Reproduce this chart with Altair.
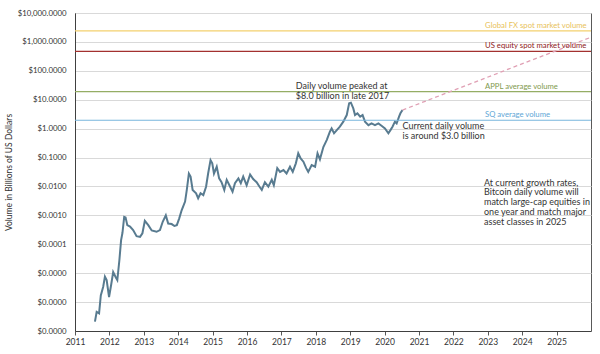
import altair as alt
import pandas as pd

# ---- data ----
years = [2011.58, 2011.63, 2011.70, 2011.75, 2011.82, 2011.87, 2011.92, 2011.99, 2012.05, 2012.11,
         2012.18, 2012.23, 2012.29, 2012.34, 2012.38, 2012.43, 2012.47, 2012.52, 2012.60, 2012.69,
         2012.79, 2012.89, 2012.96, 2013.03, 2013.13, 2013.23, 2013.37, 2013.47, 2013.55, 2013.64,
         2013.71, 2013.81, 2013.89, 2013.96, 2014.03, 2014.10, 2014.20, 2014.25, 2014.31, 2014.36,
         2014.42, 2014.52, 2014.58, 2014.65, 2014.73, 2014.81, 2014.87, 2014.94, 2014.99, 2015.04,
         2015.12, 2015.19, 2015.26, 2015.34, 2015.41, 2015.51, 2015.58, 2015.65, 2015.75, 2015.82,
         2015.89, 2015.99, 2016.09, 2016.18, 2016.28, 2016.36, 2016.43, 2016.52, 2016.62, 2016.72,
         2016.78, 2016.88, 2016.96, 2017.06, 2017.15, 2017.25, 2017.33, 2017.42, 2017.49, 2017.56,
         2017.64, 2017.72, 2017.78, 2017.88, 2017.98, 2018.05, 2018.12, 2018.22, 2018.32, 2018.41,
         2018.46, 2018.53, 2018.61, 2018.70, 2018.80, 2018.90, 2018.97, 2019.02, 2019.09, 2019.14,
         2019.21, 2019.29, 2019.36, 2019.43, 2019.53, 2019.62, 2019.72, 2019.82, 2019.92, 2020.01,
         2020.11, 2020.17, 2020.23, 2020.30, 2020.35, 2020.42, 2020.46, 2020.52]
volumes = [2.1e-7, 4.6e-7, 4.1e-7, 1.7e-6, 3.4e-6, 7.6e-6, 5.8e-6, 1.5e-6, 3.9e-6, 1.1e-5,
           7.4e-6, 5.8e-6, 2.8e-5, 1.4e-4, 2.5e-4, 8.9e-4, 8.5e-4, 4.6e-4, 4.1e-4, 3.1e-4,
           1.9e-4, 1.8e-4, 2.4e-4, 6.5e-4, 4.6e-4, 3.0e-4, 2.7e-4, 3.1e-4, 6.0e-4, 1.0e-3,
           5.2e-4, 5.0e-4, 4.3e-4, 4.6e-4, 7.9e-4, 1.5e-3, 3.0e-3, 7.6e-3, 2.8e-2, 2.2e-2,
           7.6e-3, 5.8e-3, 3.9e-3, 5.8e-3, 5.0e-3, 9.8e-3, 2.8e-2, 8.1e-2, 6.3e-2, 2.8e-2,
           4.8e-2, 1.9e-2, 1.4e-2, 7.6e-3, 1.7e-2, 9.8e-3, 6.6e-3, 1.3e-2, 1.9e-2, 1.3e-2,
           2.2e-2, 1.1e-2, 2.6e-2, 1.8e-2, 1.4e-2, 1.0e-2, 7.6e-3, 1.4e-2, 9.8e-3, 1.7e-2,
           1.1e-2, 4.3e-2, 3.2e-2, 3.7e-2, 2.8e-2, 4.8e-2, 3.2e-2, 6.3e-2, 0.14, 9.3e-2,
           7.2e-2, 4.3e-2, 3.2e-2, 5.5e-2, 4.8e-2, 0.14, 8.7e-2, 0.23, 0.41, 0.78,
           1.02, 0.69, 0.89, 1.17, 1.74, 2.95, 7.6, 7.9, 5.0, 2.95,
           3.4, 2.6, 2.95, 1.74, 1.32, 1.51, 1.32, 1.51, 1.23, 1.02,
           0.69, 0.89, 1.17, 1.74, 1.51, 2.6, 3.4, 4.4]

ref_names = ["Global FX spot market volume", "US equity spot market volume",
             "APPL average volume", "SQ average volume"]
ref_values = [2400, 470, 19, 1.95]
ref_colors = ["#f3d06e", "#a3312f", "#95ad64", "#79b6dc"]
ref_text_colors = ["#e8c25a", "#8e2020", "#7f9a4e", "#5ea6d6"]

proj_years = [2020.52, 2026.0]
proj_values = [4.4, 1450]

x_ticks = list(range(2011, 2026))
y_ticks = [1e-7, 1e-6, 1e-5, 1e-4, 1e-3, 1e-2, 1e-1, 1, 10, 100, 1000, 10000]

df = pd.DataFrame({"year": years, "volume": volumes})
refs = pd.DataFrame({"name": ref_names, "volume": ref_values,
                     "color": ref_colors, "tcolor": ref_text_colors})
proj = pd.DataFrame({"year": proj_years, "volume": proj_values})

FONT = "Lato"
xscale = alt.Scale(domain=[2011, 2026], nice=False, zero=False)
yscale = alt.Scale(type="log", domain=[1e-7, 1e4], nice=False)

xaxis = alt.Axis(values=x_ticks, format="d", title=None, grid=False,
                 ticks=True, tickSize=4, tickColor="#595959",
                 domainColor="#404040", labelFont=FONT, labelFontSize=8.5,
                 labelColor="#333333", labelPadding=2, labelFlush=False)
yaxis = alt.Axis(values=y_ticks, format="$,.4f",
                 title="Volume in Billions of US Dollars",
                 titleFont=FONT, titleFontSize=8.5, titleFontWeight="normal",
                 titleColor="#333333", titlePadding=4,
                 grid=True, gridColor="#d9d9d9", ticks=False,
                 domainColor="#404040", labelFont=FONT, labelFontSize=7.8,
                 labelColor="#333333", labelPadding=9)

X = alt.X("year:Q", scale=xscale, axis=xaxis)
Y = alt.Y("volume:Q", scale=yscale, axis=yaxis)

line = alt.Chart(df).mark_line(color="#587b90", strokeWidth=2).encode(x=X, y=Y)

rules = alt.Chart(refs).mark_rule(strokeWidth=1.2).encode(
    y=Y,
    color=alt.Color("color:N", scale=None),
)

rule_labels = alt.Chart(refs).mark_text(
    align="left", baseline="bottom", dy=-1, font=FONT, fontSize=7.7
).encode(
    x=alt.datum(2022.92, scale=xscale, axis=xaxis),
    y=Y,
    text="name:N",
    color=alt.Color("tcolor:N", scale=None),
)

projection = alt.Chart(proj).mark_line(
    color="#e0a0b4", strokeWidth=1.3, strokeDash=[4, 3]
).encode(x=X, y=Y)

def note(x, y, lines):
    return alt.Chart(pd.DataFrame({"a": [0]})).mark_text(
        align="left", baseline="middle", font=FONT, fontSize=9,
        color="#333333", lineHeight=9.8, text=lines
    ).encode(
        x=alt.datum(x, scale=xscale, axis=xaxis),
        y=alt.datum(y, scale=yscale, axis=yaxis),
    )

peak_note = note(2017.42, 30, ["Daily volume peaked at", "$8.0 billion in late 2017"])
current_note = note(2020.52, 1.25, ["Current daily volume", "is around $3.0 billion"])
growth_note = note(2022.89, 0.0135, ["At current growth rates,",
                                     "Bitcoin daily volume will",
                                     "match large-cap equities in",
                                     "one year and match major",
                                     "asset classes in 2025"])

chart = alt.layer(
    line, rules, projection, rule_labels, peak_note, current_note, growth_note
).properties(
    width=516, height=318,
    autosize=alt.AutoSizeParams(type="none"),
    padding={"left": 75, "top": 13, "right": 9, "bottom": 23},
    background="white",
).configure_view(stroke="#595959", strokeWidth=1)

chart.save("out.html", embed_options={"renderer": "svg", "actions": False})
